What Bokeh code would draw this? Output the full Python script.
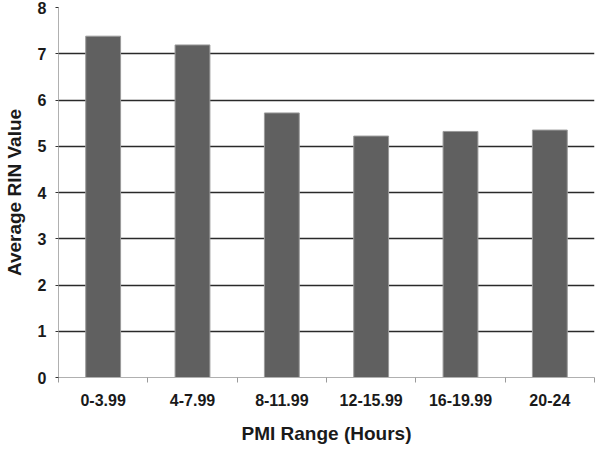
from bokeh.plotting import figure
from bokeh.models import FixedTicker, Range1d, ColumnDataSource
from bokeh.embed import file_html
from bokeh.resources import INLINE

categories = ["0-3.99", "4-7.99", "8-11.99", "12-15.99", "16-19.99", "20-24"]
rin_values = [7.38, 7.19, 5.72, 5.22, 5.32, 5.35]
y_ticks = [0, 1, 2, 3, 4, 5, 6, 7, 8]

centers = [i + 0.5 for i in range(len(categories))]
bounds = list(range(len(categories) + 1))

src = ColumnDataSource(data=dict(x=centers, top=rin_values, cat=categories))

p = figure(width=596, height=446, output_backend="svg", toolbar_location=None,
           x_range=Range1d(0, len(categories)), y_range=Range1d(0, 8),
           min_border_left=52, min_border_right=2, min_border_top=7)
p.outline_line_color = None
p.background_fill_color = "white"
p.border_fill_color = "white"

p.vbar(x="x", top="top", width=0.39, source=src,
       fill_color="#606060", line_color="#9a9a9a", line_width=1)

font = "Liberation Sans"

# x axis
xa = p.xaxis[0]
xa.ticker = FixedTicker(ticks=centers, minor_ticks=bounds)
xa.major_label_overrides = {c: lab for c, lab in zip(centers, categories)}
xa.major_tick_out = 0
xa.major_tick_in = 0
xa.minor_tick_out = 5
xa.minor_tick_in = 0
xa.minor_tick_line_color = "#9a9a9a"
xa.axis_line_color = "#b0b0b0"
xa.axis_line_width = 1
xa.major_label_text_font = font
xa.major_label_text_font_style = "bold"
xa.major_label_text_font_size = "16px"
xa.major_label_text_color = "#1a1a1a"
xa.major_label_standoff = 11
xa.axis_label = "PMI Range (Hours)"
xa.axis_label_text_font = font
xa.axis_label_text_font_style = "bold"
xa.axis_label_text_font_size = "19px"
xa.axis_label_text_color = "#1a1a1a"
xa.axis_label_standoff = 14

# y axis
ya = p.yaxis[0]
ya.ticker = FixedTicker(ticks=y_ticks)
ya.minor_tick_line_color = None
ya.major_tick_out = 3
ya.major_tick_in = 0
ya.major_tick_line_color = "#333333"
ya.axis_line_color = "#b0b0b0"
ya.major_label_text_font = font
ya.major_label_text_font_style = "bold"
ya.major_label_text_font_size = "16px"
ya.major_label_text_color = "#1a1a1a"
ya.major_label_standoff = 9
ya.axis_label = "Average RIN Value"
ya.axis_label_text_font = font
ya.axis_label_text_font_style = "bold"
ya.axis_label_text_font_size = "19px"
ya.axis_label_text_color = "#1a1a1a"
ya.axis_label_standoff = 10

p.xgrid.grid_line_color = None
p.ygrid.grid_line_color = "#2a2a2a"
p.ygrid.grid_line_width = 1.5
p.ygrid.ticker = FixedTicker(ticks=y_ticks)

open("out.html", "w").write(file_html(p, INLINE))
